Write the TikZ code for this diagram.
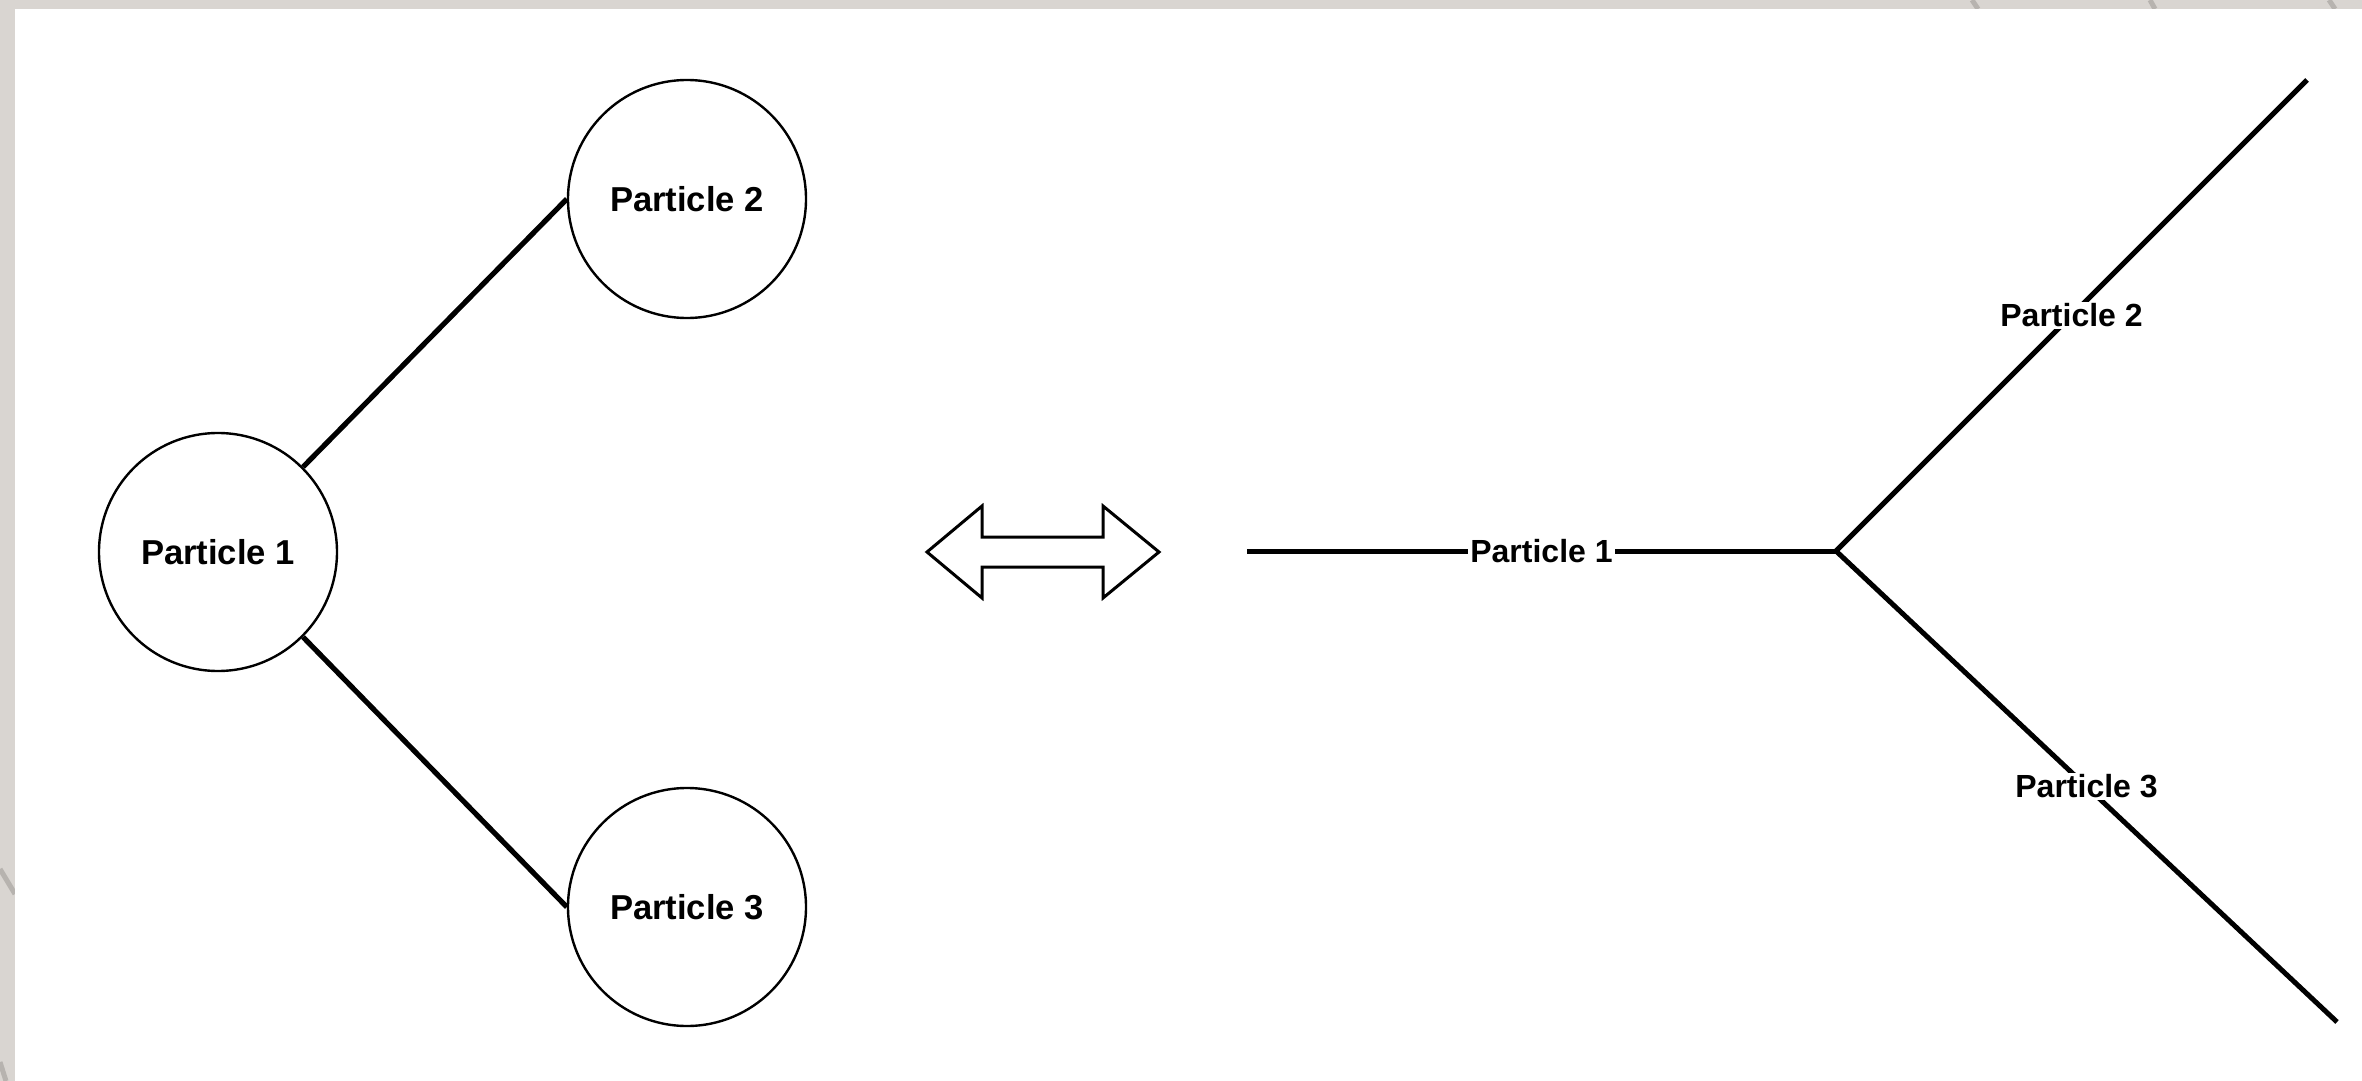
\documentclass[tikz,border=0pt]{standalone}
\usepackage{fontspec}
\setmainfont{Liberation Sans}
\definecolor{frame}{HTML}{D9D5D1}
\definecolor{framemark}{HTML}{B7B3AF}
\begin{document}
\begin{tikzpicture}[x=0.5pt,y=-0.5pt,
  particle/.style={circle, draw, line width=1.2pt, minimum size=119pt, inner sep=0pt,
    font=\bfseries\fontsize{17.3}{20}\selectfont},
  bond/.style={line width=2.6pt},
  track/.style={line width=2.5pt},
  tag/.style={fill=white, inner sep=1pt, font=\bfseries\fontsize{16}{19}\selectfont},
  framestroke/.style={line width=2.5pt, draw=framemark}]
  % page frame
  \useasboundingbox (0,0) rectangle (2362,1081);
  \fill[frame] (0,0) rectangle (2362,1081);
  \draw[framestroke] (1972,0) -- (1978,9);
  \draw[framestroke] (2150,0) -- (2155,9);
  \draw[framestroke] (2329,0) -- (2335,9);
  \draw[framestroke] (0,869) -- (15,894);
  \draw[framestroke] (0,1062) -- (6,1081);
  \fill[white] (14.5,8.8) rectangle (2362,1081);

  % left: particles as circles
  \node[particle] (p1) at (218,552) {Particle 1};
  \node[particle] (p2) at (687,199) {Particle 2};
  \node[particle] (p3) at (687,907) {Particle 3};
  \draw[bond] (p1.45) -- (p2.west);
  \draw[bond] (p1.-45) -- (p3.west);

  % equivalence arrow
  \draw[line width=1.5pt, fill=white]
    (927,552) -- (982,506) -- (982,537) -- (1103,537) -- (1103,506) -- (1159,552)
    -- (1103,598) -- (1103,567) -- (982,567) -- (982,598) -- cycle;

  % right: particles as lines
  \coordinate (s1) at (1247,551);
  \coordinate (j) at (1836,551);
  \coordinate (e2) at (2307,80);
  \coordinate (e3) at (2337,1022);
  \draw[track] (s1) -- node[tag] {Particle 1} (j);
  \draw[track] (e2) -- node[tag] {Particle 2} (j) -- node[tag] {Particle 3} (e3);
\end{tikzpicture}
\end{document}
